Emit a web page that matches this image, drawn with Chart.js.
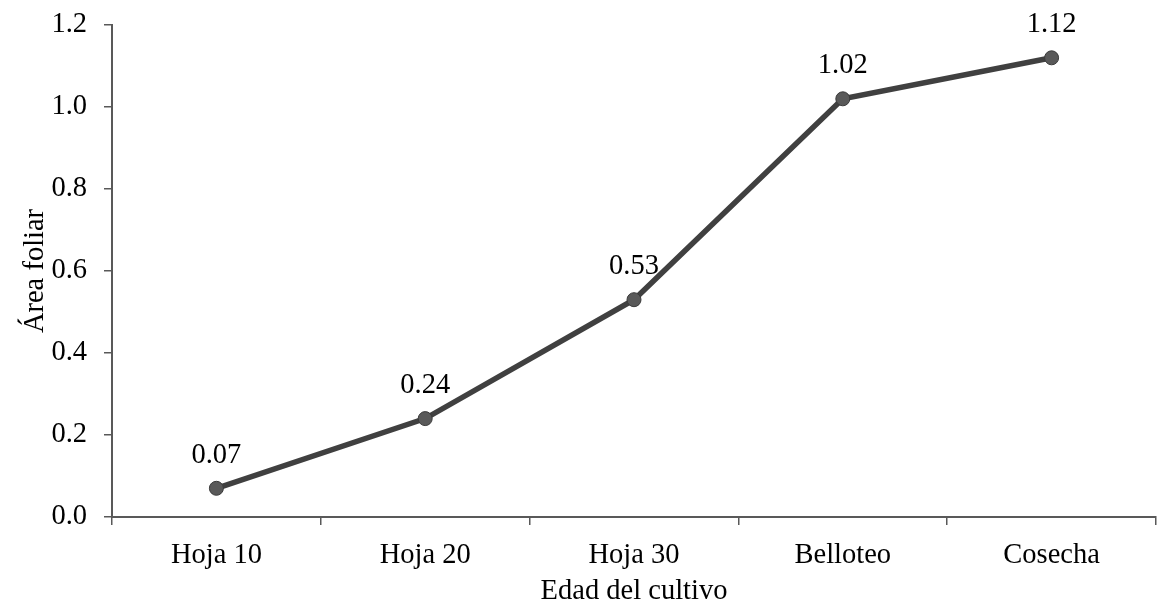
<!DOCTYPE html>
<html>
<head>
<meta charset="utf-8">
<script src="https://cdn.jsdelivr.net/npm/chart.js@4"></script>
<style>
  html, body { margin: 0; padding: 0; background: #fff; }
  #wrap { width: 1159px; height: 604px; }
</style>
</head>
<body>
<div id="wrap"><canvas id="c" width="1159" height="604"></canvas></div>
<script>
const categories = ['Hoja 10', 'Hoja 20', 'Hoja 30', 'Belloteo', 'Cosecha'];
const areaFoliar = [0.07, 0.24, 0.53, 1.02, 1.12];
const yTicks = [0.0, 0.2, 0.4, 0.6, 0.8, 1.0, 1.2];

const FONT = "'Liberation Serif', 'Times New Roman', serif";
const FS = 28.5;
const AXIS = '#595959';

// Writes each point's value above its marker
const valueLabels = {
  id: 'valueLabels',
  afterDatasetsDraw(chart) {
    const ctx = chart.ctx;
    const meta = chart.getDatasetMeta(0);
    const data = chart.data.datasets[0].data;
    ctx.save();
    ctx.font = FS + 'px ' + FONT;
    ctx.fillStyle = '#000';
    ctx.textAlign = 'center';
    ctx.textBaseline = 'middle';
    meta.data.forEach((pt, i) => {
      ctx.fillText(data[i].toFixed(2), pt.x, pt.y - 33);
    });
    ctx.restore();
  }
};

new Chart(document.getElementById('c'), {
  type: 'line',
  data: {
    labels: categories,
    datasets: [{
      data: areaFoliar,
      borderColor: '#404040',
      borderWidth: 5.5,
      pointRadius: 7,
      pointBackgroundColor: '#595959',
      pointBorderColor: '#3a3a3a',
      pointBorderWidth: 1,
      tension: 0,
      clip: false
    }]
  },
  options: {
    responsive: false,
    animation: false,
    layout: { autoPadding: false, padding: { top: 25, right: 3, left: 0, bottom: 0 } },
    plugins: { legend: { display: false }, tooltip: { enabled: false } },
    scales: {
      x: {
        offset: true,
        afterFit: s => { s.height = 87; s.paddingLeft = 0; s.paddingRight = 0; },
        grid: { display: true, offset: true, drawOnChartArea: false, drawTicks: true, tickLength: 8, color: AXIS, lineWidth: 1.5 },
        border: { display: true, color: AXIS, width: 2 },
        ticks: { color: '#000', font: { family: FONT, size: FS }, padding: 13, maxRotation: 0 },
        title: { display: true, text: 'Edad del cultivo', color: '#000', font: { family: FONT, size: FS }, padding: { top: 0, bottom: -5 } }
      },
      y: {
        min: 0,
        max: 1.2,
        afterFit: s => { s.width = 112; s.paddingTop = 0; s.paddingBottom = 0; },
        afterBuildTicks: s => { s.ticks = yTicks.map(v => ({ value: v })); },
        grid: { display: true, drawOnChartArea: false, drawTicks: true, tickLength: 8, color: AXIS, lineWidth: 1.5 },
        border: { display: true, color: AXIS, width: 2 },
        ticks: { color: '#000', font: { family: FONT, size: FS }, padding: 17, callback: v => Number(v).toFixed(1) },
        title: { display: true, text: 'Área foliar', color: '#000', font: { family: FONT, size: FS }, padding: { top: 18, bottom: 0 } }
      }
    }
  },
  plugins: [valueLabels]
});
</script>
</body>
</html>
